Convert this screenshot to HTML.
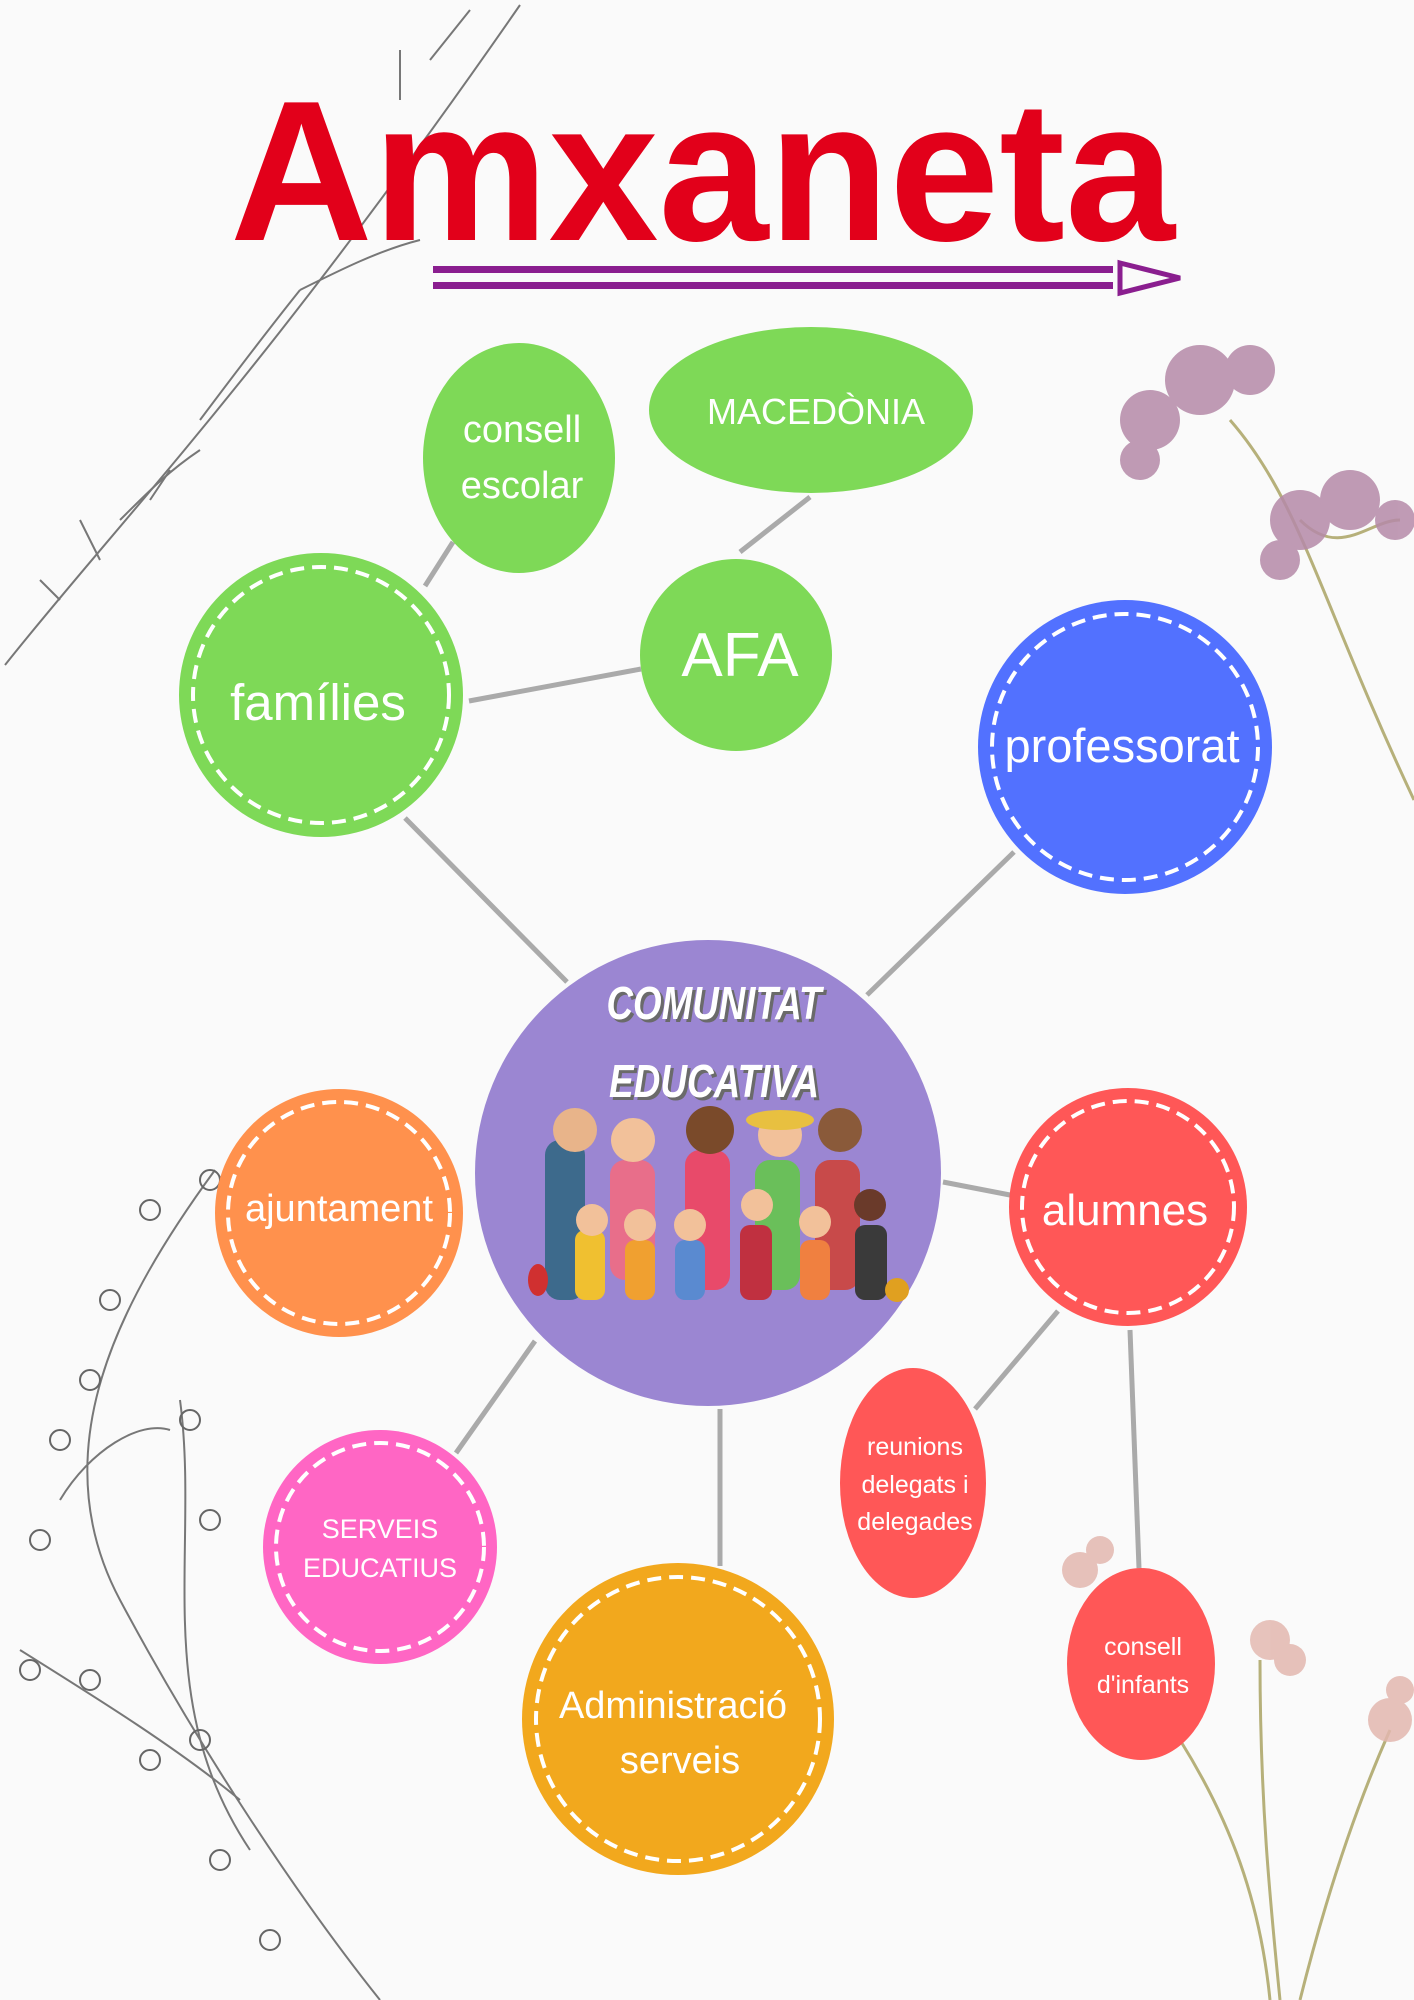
<!DOCTYPE html>
<html><head><meta charset="utf-8">
<style>
html,body{margin:0;padding:0;background:#fafafa;}
svg{display:block;}
text{font-family:"Liberation Sans",sans-serif;}
</style></head>
<body>
<svg width="1414" height="2000" viewBox="0 0 1414 2000" xmlns="http://www.w3.org/2000/svg">
<rect width="1414" height="2000" fill="#fafafa"/>

<!-- decorative branches -->
<g fill="none" stroke="#777" stroke-width="2">
<path d="M5 665 C120 520 260 380 520 5"/>
<path d="M120 520 C150 490 170 470 200 450"/>
<path d="M200 420 C230 380 260 340 300 290"/>
<path d="M300 290 C340 270 380 250 420 240"/>
<path d="M400 100 L400 50 M430 60 L470 10"/>
<path d="M100 560 L80 520 M150 500 L170 470 M60 600 L40 580"/>
<path d="M215 1170 C120 1300 40 1450 120 1600 C200 1750 300 1900 380 2000"/>
<path d="M180 1400 C200 1550 150 1700 250 1850"/>
<path d="M20 1650 C100 1700 180 1750 240 1800"/>
<path d="M60 1500 C90 1450 140 1420 170 1430"/>
</g>
<g fill="none" stroke="#666" stroke-width="2">
<circle cx="210" cy="1180" r="10"/><circle cx="150" cy="1210" r="10"/><circle cx="110" cy="1300" r="10"/>
<circle cx="90" cy="1380" r="10"/><circle cx="60" cy="1440" r="10"/><circle cx="40" cy="1540" r="10"/>
<circle cx="190" cy="1420" r="10"/><circle cx="210" cy="1520" r="10"/><circle cx="200" cy="1740" r="10"/>
<circle cx="30" cy="1670" r="10"/><circle cx="90" cy="1680" r="10"/><circle cx="150" cy="1760" r="10"/>
<circle cx="220" cy="1860" r="10"/><circle cx="270" cy="1940" r="10"/>
</g>
<!-- flowers top right -->
<g fill="none" stroke="#b6b07a" stroke-width="3">
<path d="M1230 420 C1300 500 1320 600 1414 800"/>
<path d="M1300 520 C1340 560 1370 520 1400 520"/>
</g>
<g fill="#b58aa8" opacity="0.85">
<circle cx="1150" cy="420" r="30"/><circle cx="1200" cy="380" r="35"/><circle cx="1250" cy="370" r="25"/>
<circle cx="1140" cy="460" r="20"/><circle cx="1300" cy="520" r="30"/><circle cx="1350" cy="500" r="30"/>
<circle cx="1395" cy="520" r="20"/><circle cx="1280" cy="560" r="20"/>
</g>
<!-- flowers bottom right -->
<g fill="none" stroke="#b6b07a" stroke-width="3">
<path d="M1180 1740 C1230 1820 1260 1900 1270 2000"/>
<path d="M1260 1660 C1260 1800 1270 1900 1280 2000"/>
<path d="M1390 1730 C1350 1820 1320 1920 1300 2000"/>
</g>
<g fill="#e3b8b0" opacity="0.85">
<circle cx="1080" cy="1570" r="18"/><circle cx="1100" cy="1550" r="14"/><circle cx="1270" cy="1640" r="20"/>
<circle cx="1290" cy="1660" r="16"/><circle cx="1390" cy="1720" r="22"/><circle cx="1400" cy="1690" r="14"/>
</g>

<!-- logo -->
<text x="230" y="240" font-size="200" font-weight="bold" fill="#e2001a" textLength="945" lengthAdjust="spacingAndGlyphs">Amxaneta</text>
<rect x="433" y="266" width="680" height="7" fill="#8a1e8f"/>
<rect x="433" y="282" width="680" height="7" fill="#8a1e8f"/>
<polygon points="1120,263 1180,278 1120,293" fill="none" stroke="#8a1e8f" stroke-width="5"/>

<!-- connectors -->
<g stroke="#aaa" stroke-width="5" fill="none">
<line x1="425" y1="586" x2="453" y2="542"/>
<line x1="469" y1="701" x2="641" y2="669"/>
<line x1="740" y1="552" x2="810" y2="497"/>
<line x1="405" y1="818" x2="567" y2="982"/>
<line x1="1014" y1="852" x2="867" y2="995"/>
<line x1="943" y1="1182" x2="1010" y2="1195"/>
<line x1="535" y1="1341" x2="456" y2="1453"/>
<line x1="720" y1="1409" x2="720" y2="1566"/>
<line x1="1058" y1="1311" x2="975" y2="1409"/>
<line x1="1130" y1="1330" x2="1139" y2="1568"/>
</g>

<!-- nodes -->
<g>
<ellipse cx="519" cy="458" rx="96" ry="115" fill="#7ed957"/>
<ellipse cx="811" cy="410" rx="162" ry="83" fill="#7ed957"/>
<circle cx="736" cy="655" r="96" fill="#7ed957"/>
<circle cx="321" cy="695" r="142" fill="#7ed957"/>
<circle cx="321" cy="695" r="128" fill="none" stroke="#fff" stroke-width="4" stroke-dasharray="14 8"/>
<circle cx="1125" cy="747" r="147" fill="#5271ff"/>
<circle cx="1125" cy="747" r="133" fill="none" stroke="#fff" stroke-width="4" stroke-dasharray="14 8"/>
<circle cx="708" cy="1173" r="233" fill="#9b86d2"/>
<circle cx="339" cy="1213" r="124" fill="#ff914d"/>
<circle cx="339" cy="1213" r="111" fill="none" stroke="#fff" stroke-width="4" stroke-dasharray="14 8"/>
<circle cx="1128" cy="1207" r="119" fill="#ff5757"/>
<circle cx="1128" cy="1207" r="106" fill="none" stroke="#fff" stroke-width="4" stroke-dasharray="14 8"/>
<ellipse cx="913" cy="1483" rx="73" ry="115" fill="#ff5757"/>
<circle cx="380" cy="1547" r="117" fill="#ff66c4"/>
<circle cx="380" cy="1547" r="104" fill="none" stroke="#fff" stroke-width="4" stroke-dasharray="14 8"/>
<circle cx="678" cy="1719" r="156" fill="#f2a81d"/>
<circle cx="678" cy="1719" r="142" fill="none" stroke="#fff" stroke-width="4" stroke-dasharray="14 8"/>
<ellipse cx="1141" cy="1664" rx="74" ry="96" fill="#ff5757"/>
</g>

<!-- central illustration (simplified people) -->
<g>
<rect x="545" y="1140" width="40" height="160" rx="15" fill="#3d6a8c"/>
<circle cx="575" cy="1130" r="22" fill="#e8b48a"/>
<rect x="610" y="1160" width="45" height="120" rx="15" fill="#e86e8a"/>
<circle cx="633" cy="1140" r="22" fill="#f2c19a"/>
<rect x="685" y="1150" width="45" height="140" rx="15" fill="#e84a6a"/>
<circle cx="710" cy="1130" r="24" fill="#7a4a2a"/>
<rect x="755" y="1160" width="45" height="130" rx="15" fill="#6abf5a"/>
<circle cx="780" cy="1135" r="22" fill="#f2c19a"/>
<ellipse cx="780" cy="1120" rx="34" ry="10" fill="#e8c040"/>
<rect x="815" y="1160" width="45" height="130" rx="15" fill="#c84a4a"/>
<circle cx="840" cy="1130" r="22" fill="#8a5a3a"/>
<rect x="575" y="1230" width="30" height="70" rx="10" fill="#f0c030"/>
<circle cx="592" cy="1220" r="16" fill="#f2c19a"/>
<rect x="625" y="1240" width="30" height="60" rx="10" fill="#f0a030"/>
<circle cx="640" cy="1225" r="16" fill="#f2c19a"/>
<rect x="675" y="1240" width="30" height="60" rx="10" fill="#5a8ad0"/>
<circle cx="690" cy="1225" r="16" fill="#f2c19a"/>
<rect x="740" y="1225" width="32" height="75" rx="10" fill="#c03040"/>
<circle cx="757" cy="1205" r="16" fill="#f2c19a"/>
<rect x="800" y="1240" width="30" height="60" rx="10" fill="#f08040"/>
<circle cx="815" cy="1222" r="16" fill="#f2c19a"/>
<rect x="855" y="1225" width="32" height="75" rx="10" fill="#3a3a3a"/>
<circle cx="870" cy="1205" r="16" fill="#6a3a2a"/>
<ellipse cx="538" cy="1280" rx="10" ry="16" fill="#d03030"/>
<circle cx="897" cy="1290" r="12" fill="#e0a020"/>
</g>

<!-- labels -->
<g fill="#fff" text-anchor="middle">
<text x="522" y="442" font-size="38">consell</text>
<text x="522" y="498" font-size="38">escolar</text>
<text x="816" y="424" font-size="36">MACEDÒNIA</text>
<text x="740" y="676" font-size="62">AFA</text>
<text x="318" y="720" font-size="51">famílies</text>
<text x="1122" y="762" font-size="47">professorat</text>
<text x="339" y="1221" font-size="38">ajuntament</text>
<text x="1125" y="1225" font-size="44">alumnes</text>
<text x="915" y="1455" font-size="25">reunions</text>
<text x="915" y="1493" font-size="25">delegats i</text>
<text x="915" y="1530" font-size="25">delegades</text>
<text x="380" y="1538" font-size="27">SERVEIS</text>
<text x="380" y="1577" font-size="27">EDUCATIUS</text>
<text x="673" y="1718" font-size="38">Administració</text>
<text x="680" y="1773" font-size="38">serveis</text>
<text x="1143" y="1655" font-size="25">consell</text>
<text x="1143" y="1693" font-size="25">d'infants</text>
</g>
<g text-anchor="middle" font-weight="bold" font-style="italic">
<text x="717" y="1022" font-size="46" fill="#6a6a6a" textLength="215" lengthAdjust="spacingAndGlyphs">COMUNITAT</text>
<text x="714" y="1019" font-size="46" fill="#fff" textLength="215" lengthAdjust="spacingAndGlyphs">COMUNITAT</text>
<text x="717" y="1100" font-size="46" fill="#6a6a6a" textLength="210" lengthAdjust="spacingAndGlyphs">EDUCATIVA</text>
<text x="714" y="1097" font-size="46" fill="#fff" textLength="210" lengthAdjust="spacingAndGlyphs">EDUCATIVA</text>
</g>
</svg>
</body></html>
